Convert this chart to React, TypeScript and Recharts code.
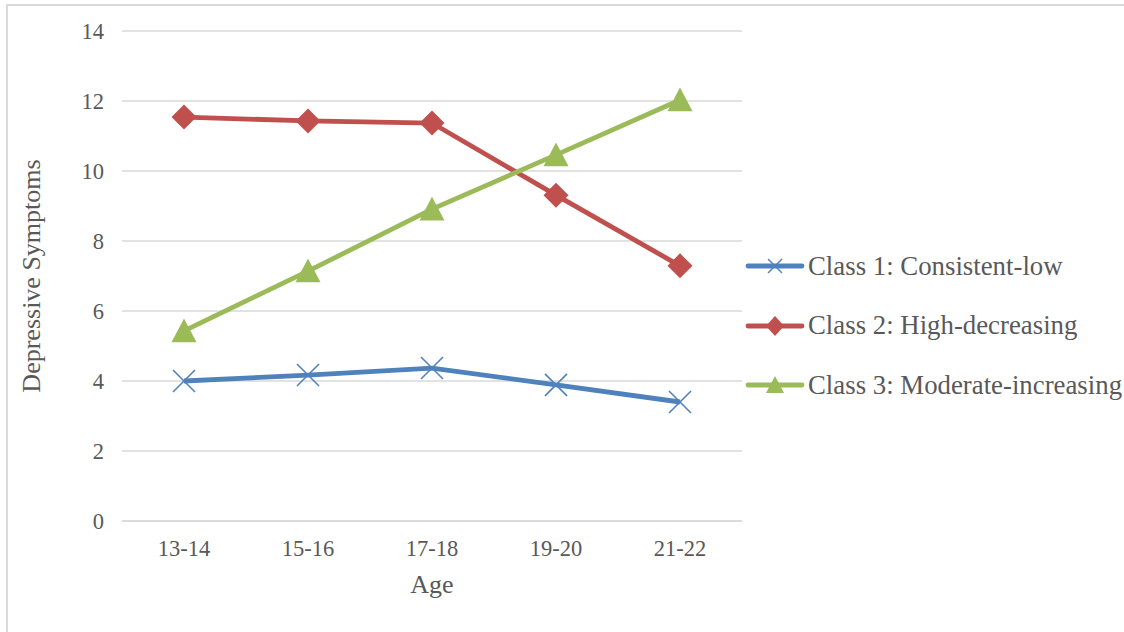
import { CartesianGrid, Line, LineChart, XAxis, YAxis } from "recharts";

const ages = ["13-14", "15-16", "17-18", "19-20", "21-22"];
const class1 = [4.0, 4.17, 4.37, 3.89, 3.4];
const class2 = [11.54, 11.43, 11.37, 9.31, 7.29];
const class3 = [5.43, 7.14, 8.91, 10.46, 12.03];
const yTicks = [0, 2, 4, 6, 8, 10, 12, 14];

const series = [
  { key: "c1", name: "Class 1: Consistent-low", color: "#4f81bd", marker: "x" },
  { key: "c2", name: "Class 2: High-decreasing", color: "#c0504d", marker: "diamond" },
  { key: "c3", name: "Class 3: Moderate-increasing", color: "#9bbb59", marker: "triangle" },
];

const data = ages.map((age, i) => ({ age, c1: class1[i], c2: class2[i], c3: class3[i] }));

const FONT = "'Liberation Serif', 'Times New Roman', serif";
const TEXT = "#595959";

function Marker({ type, color, cx, cy }: { type: string; color: string; cx: number; cy: number }) {
  if (type === "x") {
    const r = 11;
    return (
      <g>
        <line x1={cx - r} y1={cy - r} x2={cx + r} y2={cy + r} stroke={color} strokeWidth={1.6} />
        <line x1={cx - r} y1={cy + r} x2={cx + r} y2={cy - r} stroke={color} strokeWidth={1.6} />
      </g>
    );
  }
  if (type === "diamond") {
    const r = 12.5;
    return <polygon points={`${cx},${cy - r} ${cx + r},${cy} ${cx},${cy + r} ${cx - r},${cy}`} fill={color} />;
  }
  const r = 12.5;
  return <polygon points={`${cx},${cy - r} ${cx + r},${cy + r * 0.9} ${cx - r},${cy + r * 0.9}`} fill={color} />;
}

function LegendIcon({ type, color }: { type: string; color: string }) {
  return (
    <svg width={60} height={24} style={{ display: "block" }}>
      <line x1={3} y1={12} x2={57} y2={12} stroke={color} strokeWidth={4.8} strokeLinecap="round" />
      {type === "x" && (
        <g>
          <line x1={23} y1={5} x2={37} y2={19} stroke={color} strokeWidth={1.4} />
          <line x1={23} y1={19} x2={37} y2={5} stroke={color} strokeWidth={1.4} />
        </g>
      )}
      {type === "diamond" && <polygon points="30,2 39,12 30,22 21,12" fill={color} />}
      {type === "triangle" && <polygon points="30,3 39,20 21,20" fill={color} />}
    </svg>
  );
}

export default function App() {
  return (
    <div style={{ position: "absolute", left: 0, top: 0, width: 1124, height: 632, overflow: "hidden", background: "#fff" }}>
      <div
        style={{
          position: "absolute",
          left: 6,
          top: 4,
          width: 1140,
          height: 650,
          border: "2px solid #d9d9d9",
        }}
      />
      <LineChart
        width={1124}
        height={632}
        data={data}
        margin={{ top: 31, right: 382, bottom: 81, left: 20 }}
        style={{ position: "absolute", left: 0, top: 0 }}
      >
        <CartesianGrid vertical={false} stroke="#d9d9d9" strokeWidth={1.5} />
        <XAxis
          dataKey="age"
          height={30}
          padding={{ left: 62, right: 62 }}
          stroke="#d9d9d9"
          strokeWidth={1.5}
          tickLine={false}
          tickSize={0}
          tickMargin={19}
          tick={{ fill: TEXT, fontSize: 22.5, fontFamily: FONT }}
          label={{ value: "Age", position: "bottom", offset: 24, fill: TEXT, fontSize: 26, fontFamily: FONT }}
        />
        <YAxis
          domain={[0, 14]}
          ticks={yTicks}
          width={102}
          axisLine={false}
          tickLine={false}
          tickSize={0}
          tickMargin={18}
          tick={{ fill: TEXT, fontSize: 22.5, fontFamily: FONT }}
          label={{
            value: "Depressive Symptoms",
            angle: -90,
            position: "insideLeft",
            offset: 0,
            dx: 11,
            fill: TEXT,
            fontSize: 26,
            fontFamily: FONT,
            style: { textAnchor: "middle" },
          }}
        />
        {series.map((s) => (
          <Line
            key={s.key}
            dataKey={s.key}
            name={s.name}
            stroke={s.color}
            strokeWidth={4.8}
            isAnimationActive={false}
            activeDot={false}
            dot={(p: any) => <Marker key={`${s.key}-${p.index}`} type={s.marker} color={s.color} cx={p.cx} cy={p.cy} />}
          />
        ))}
      </LineChart>
      <div style={{ position: "absolute", left: 745, top: 254 }}>
        {series.map((s) => (
          <div key={s.key} style={{ display: "flex", alignItems: "center", height: 24, marginBottom: 35.5 }}>
            <LegendIcon type={s.marker} color={s.color} />
            <span style={{ fontFamily: FONT, fontSize: 26.8, color: TEXT, whiteSpace: "nowrap", marginLeft: 3 }}>{s.name}</span>
          </div>
        ))}
      </div>
    </div>
  );
}
